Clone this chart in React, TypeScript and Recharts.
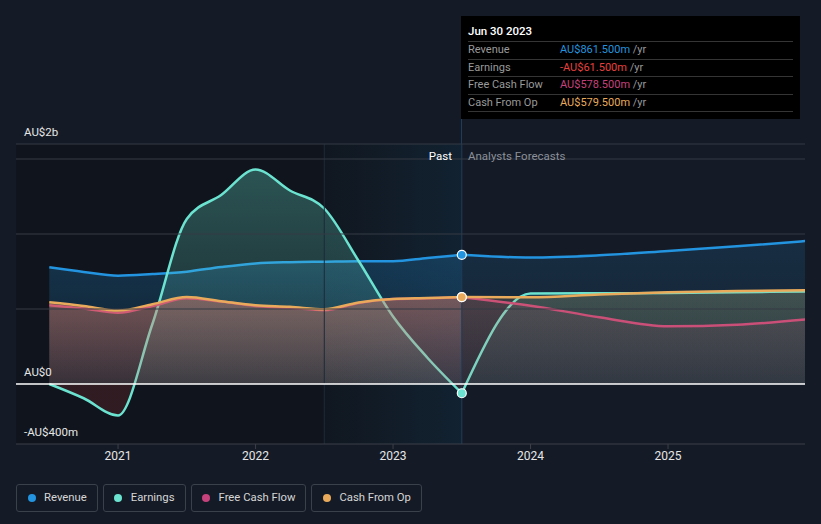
import React from 'react';
import {
    ComposedChart,
    Area,
    XAxis,
    YAxis,
    ReferenceLine,
    ReferenceArea,
    ReferenceDot
} from 'recharts';

// decimal years; Jun 30 2023 is the last reported point, later ones are analyst forecasts
const DATES = [2020.5, 2020.75, 2021.0, 2021.25, 2021.5, 2021.75, 2022.0, 2022.25, 2022.5, 2022.75, 2023.0, 2023.25, 2023.5, 2024.0, 2024.5, 2025.0, 2025.5, 2026.0];
const REVENUE = [778, 747, 722, 733, 749, 780, 804, 812, 815, 818, 818, 840, 861.5, 843, 858, 887, 918, 953];
const EARNINGS = [0, -95, -210, 400, 1100, 1260, 1430, 1290, 1170, 820, 450, 175, -61.5, 603, 605, 607, 612, 617];
const FREE_CASH_FLOW = [525, 503, 475, 520, 572, 550, 520, 508, 492, 540, 566, 572, 578.5, 522, 445, 385, 395, 430];
const CASH_FROM_OP = [545, 520, 490, 532, 580, 552, 525, 515, 498, 544, 567, 573, 579.5, 578, 597, 611, 620, 625];

const SERIES_NAMES = ['Revenue', 'Earnings', 'Free Cash Flow', 'Cash From Op'];
const X_TICKS = [2021, 2022, 2023, 2024, 2025];
const Y_TICKS = [-400, 0, 1600];
const Y_TICK_LABELS = ['-AU$400m', 'AU$0', 'AU$2b'];
const GRID_VALUES = [1600, 1500, 1000, 500];

const PAST_START = 2022.5;
const NOW = 2023.5;
const NOW_LABEL = 'Jun 30 2023';
const X_DOMAIN: [number, number] = [2020.258, 2025.996];

const KEYS = ['revenue', 'earnings', 'fcf', 'cfo'];
const LINE_COLORS = ['#2394df', '#6be3d0', '#c6427c', '#e9ab5b'];
const TOOLTIP_VALUE_COLORS = ['#2394df', '#e8403f', '#c6427c', '#e9ab5b'];
const SERIES = [REVENUE, EARNINGS, FREE_CASH_FLOW, CASH_FROM_OP];

const nowIdx = DATES.indexOf(NOW);

// split each series into a past part and a forecast part (they share the Jun 2023 point)
const data = DATES.map((t, i) => {
    const row: any = { t };
    KEYS.forEach((k, s) => {
        row[k + 'P'] = i <= nowIdx ? SERIES[s][i] : null;
        row[k + 'F'] = i >= nowIdx ? SERIES[s][i] : null;
    });
    return row;
});

const nowValues = SERIES.map((s) => s[nowIdx]);

const fmt = (v: number) => (v < 0 ? '-' : '') + 'AU$' + Math.abs(v).toFixed(3) + 'm';

// fill opacities: [top, bottom] for past and forecast
const PAST_OPACITY = [[0.24, 0.08], [0, 0], [0.28, 0.1], [0.27, 0.1]];
const FC_OPACITY = [[0.15, 0.06], [0, 0], [0.13, 0.06], [0.16, 0.06]];

const YTick = (props: any) => {
    const i = Y_TICKS.indexOf(props.payload.value);
    return (
        <text x={24} y={props.y - 12} dy="0.35em" fill="#e6e6e6" fontSize={11.5}>
            {Y_TICK_LABELS[i]}
        </text>
    );
};

export default function App() {
    return (
        <div style={{
            position: 'absolute', left: 0, top: 0, width: 821, height: 524,
            background: '#151b26', fontFamily: 'Roboto, sans-serif', overflow: 'hidden'
        }}>
            <ComposedChart
                width={821}
                height={524}
                data={data}
                margin={{ top: 144, right: 16, left: 0, bottom: 50 }}
            >
                <defs>
                    <linearGradient id="pastBand" x1="0" y1="0" x2="1" y2="0">
                        <stop offset="0" stopColor="#2394df" stopOpacity={0.03} />
                        <stop offset="1" stopColor="#2394df" stopOpacity={0.2} />
                    </linearGradient>
                    {KEYS.map((k, s) => s === 1 ? null : (
                        <linearGradient key={k + 'P'} id={k + 'PFill'} x1="0" y1="0" x2="0" y2="1">
                            <stop offset="0" stopColor={LINE_COLORS[s]} stopOpacity={PAST_OPACITY[s][0]} />
                            <stop offset="1" stopColor={LINE_COLORS[s]} stopOpacity={PAST_OPACITY[s][1]} />
                        </linearGradient>
                    ))}
                    {KEYS.map((k, s) => s === 1 ? null : (
                        <linearGradient key={k + 'F'} id={k + 'FFill'} x1="0" y1="0" x2="0" y2="1">
                            <stop offset="0" stopColor={LINE_COLORS[s]} stopOpacity={FC_OPACITY[s][0]} />
                            <stop offset="1" stopColor={LINE_COLORS[s]} stopOpacity={FC_OPACITY[s][1]} />
                        </linearGradient>
                    ))}
                    <linearGradient id="earningsPFill" gradientUnits="userSpaceOnUse" x1="0" y1="144" x2="0" y2="444">
                        <stop offset="0" stopColor={LINE_COLORS[1]} stopOpacity={0.33} />
                        <stop offset="0.8" stopColor={LINE_COLORS[1]} stopOpacity={0.08} />
                        <stop offset="0.8" stopColor="#e8403f" stopOpacity={0.15} />
                        <stop offset="1" stopColor="#e8403f" stopOpacity={0.15} />
                    </linearGradient>
                    <linearGradient id="earningsFFill" gradientUnits="userSpaceOnUse" x1="0" y1="144" x2="0" y2="444">
                        <stop offset="0" stopColor={LINE_COLORS[1]} stopOpacity={0.2} />
                        <stop offset="0.8" stopColor={LINE_COLORS[1]} stopOpacity={0.07} />
                        <stop offset="0.8" stopColor="#e8403f" stopOpacity={0.12} />
                        <stop offset="1" stopColor="#e8403f" stopOpacity={0.12} />
                    </linearGradient>
                </defs>

                <XAxis
                    dataKey="t"
                    type="number"
                    domain={X_DOMAIN}
                    allowDataOverflow
                    ticks={X_TICKS}
                    tickFormatter={(v) => String(v)}
                    tick={{ fill: '#e6e6e6', fontSize: 12 }}
                    tickLine={{ stroke: '#3a3f49' }}
                    tickSize={5}
                    axisLine={{ stroke: '#3a3f49' }}
                    height={30}
                />
                <YAxis
                    type="number"
                    domain={[-400, 1600]}
                    ticks={Y_TICKS}
                    width={16}
                    axisLine={false}
                    tickLine={false}
                    interval={0}
                    tick={(p: any) => <YTick {...p} />}
                />

                {/* darker past background + shaded last year */}
                <ReferenceArea x1={X_DOMAIN[0]} x2={NOW} y1={-400} y2={1600} fill="#000000" fillOpacity={0.22} stroke="none" />
                <ReferenceArea x1={PAST_START} x2={NOW} y1={-400} y2={1600} fill="url(#pastBand)" stroke="none" />
                <ReferenceLine x={PAST_START} stroke="#1d2b3a" />
                <ReferenceLine x={NOW} stroke="#1f3d5a" />

                {GRID_VALUES.map((v) => (
                    <ReferenceLine key={v} y={v} stroke="#353a44" />
                ))}

                {KEYS.map((k, s) => [
                    <Area key={k + 'P'} type="monotone" dataKey={k + 'P'} name={SERIES_NAMES[s]} baseValue={0}
                        stroke={LINE_COLORS[s]} strokeWidth={2.5} fill={`url(#${k}PFill)`} fillOpacity={1}
                        isAnimationActive={false} dot={false} activeDot={false} />,
                    <Area key={k + 'F'} type="monotone" dataKey={k + 'F'} name={SERIES_NAMES[s]} baseValue={0}
                        stroke={LINE_COLORS[s]} strokeWidth={2.5} fill={`url(#${k}FFill)`} fillOpacity={1}
                        isAnimationActive={false} dot={false} activeDot={false} />
                ])}

                <ReferenceLine y={0} stroke="#ffffff" strokeWidth={1.5} />

                <ReferenceDot x={NOW} y={REVENUE[nowIdx]} r={4.5} fill={LINE_COLORS[0]} stroke="#ffffff" strokeWidth={1.2} />
                <ReferenceDot x={NOW} y={FREE_CASH_FLOW[nowIdx]} r={4.5} fill={LINE_COLORS[2]} stroke="#ffffff" strokeWidth={1.2} />
                <ReferenceDot x={NOW} y={CASH_FROM_OP[nowIdx]} r={4.5} fill={LINE_COLORS[3]} stroke="#ffffff" strokeWidth={1.2} />
                <ReferenceDot x={NOW} y={EARNINGS[nowIdx]} r={4.5} fill={LINE_COLORS[1]} stroke="#ffffff" strokeWidth={1.2} />
            </ComposedChart>

            {/* Past / forecast labels */}
            <div style={{ position: 'absolute', left: 400, width: 52, top: 149, textAlign: 'right', fontSize: 11.5, color: '#ffffff' }}>Past</div>
            <div style={{ position: 'absolute', left: 468, top: 149, fontSize: 11.5, color: '#8b9099' }}>Analysts Forecasts</div>

            {/* line above the tooltip down to the plot */}
            <div style={{ position: 'absolute', left: 461, top: 16, width: 1, height: 128, background: '#1f3d5a' }} />

            {/* static tooltip */}
            <div style={{ position: 'absolute', left: 461, top: 16, width: 339, height: 103, background: '#000000' }}>
                <div style={{ position: 'absolute', left: 7, top: 8, fontSize: 11.5, color: '#ffffff', fontWeight: 500 }}>{NOW_LABEL}</div>
                {SERIES_NAMES.map((name, i) => (
                    <div key={name} style={{
                        position: 'absolute', left: 7, right: 7, top: 25 + i * 17.5, height: 17,
                        borderTop: '1px solid #353535', fontSize: 11, lineHeight: '16px', color: '#9a9a9a'
                    }}>
                        <span>{name}</span>
                        <span style={{ position: 'absolute', left: 92 }}>
                            <span style={{ color: TOOLTIP_VALUE_COLORS[i] }}>{fmt(nowValues[i])}</span> /yr
                        </span>
                    </div>
                ))}
                <div style={{ position: 'absolute', left: 7, right: 7, top: 95, borderTop: '1px solid #353535' }} />
            </div>

            {/* legend */}
            <div style={{ position: 'absolute', left: 16, top: 484, display: 'flex', gap: 5 }}>
                {SERIES_NAMES.map((name, i) => (
                    <div key={name} style={{
                        height: 25, border: '1px solid #3b414b', borderRadius: 3, display: 'flex',
                        alignItems: 'center', padding: '0 10px 1px 10.5px', fontSize: 11.3, color: '#d6d6d6'
                    }}>
                        <span style={{ width: 8, height: 8, borderRadius: 4, background: LINE_COLORS[i], marginRight: 8.5, display: 'inline-block' }} />
                        {name}
                    </div>
                ))}
            </div>
        </div>
    );
}
